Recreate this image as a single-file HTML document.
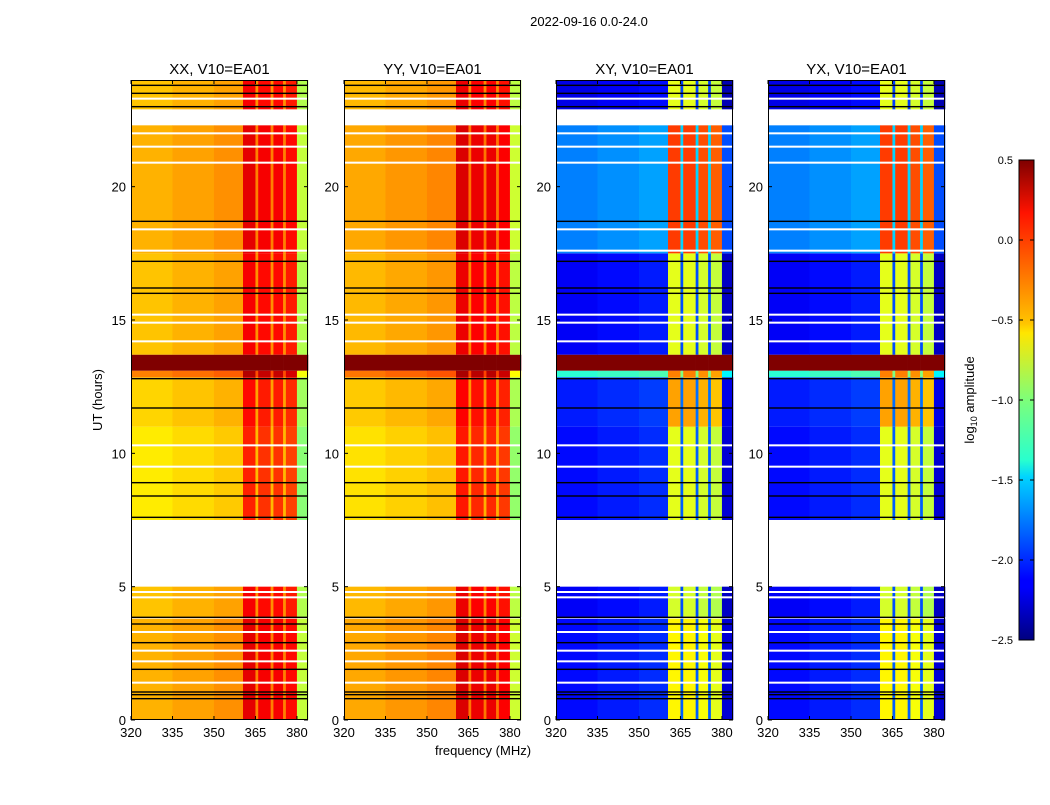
<!DOCTYPE html>
<html><head><meta charset="utf-8"><style>
body{margin:0;background:#fff;font-family:"Liberation Sans",sans-serif}
svg text{font-family:"Liberation Sans","DejaVu Sans",sans-serif}
</style></head><body>
<svg id="fig" width="1050" height="800" xmlns="http://www.w3.org/2000/svg">
<defs>
<linearGradient id="jet" x1="0" y1="1" x2="0" y2="0">
<stop offset="0" stop-color="#00007f"/><stop offset="0.11" stop-color="#0000ff"/><stop offset="0.125" stop-color="#0000ff"/>
<stop offset="0.34" stop-color="#00d4ff"/><stop offset="0.375" stop-color="#29ffce"/><stop offset="0.5" stop-color="#7dff7a"/>
<stop offset="0.64" stop-color="#ffe600"/><stop offset="0.66" stop-color="#ffc400"/><stop offset="0.89" stop-color="#ff1300"/><stop offset="1" stop-color="#7f0000"/>
</linearGradient>
</defs>
</svg>
<script>
// ---- data ----
const panelTitles = ["XX, V10=EA01","YY, V10=EA01","XY, V10=EA01","YX, V10=EA01"];
const freqEdges = [320,335,350,360.5,365,366,370.5,371.5,375,376,380,384];
const parColVals = [-0.45,-0.4,-0.35,0.15,-0.3,0.1,-0.3,0.1,-0.3,0.05,-0.85];
const crossColVals = [-2.15,-2.1,-2.05,-0.75,-1.9,-0.75,-1.9,-0.8,-1.9,-0.85,-2.3];
const crossIsBand = [0,0,0,1,0,1,0,1,0,1,0];
const rowStart = [0,3.85,7.5,11.0,12.85,13.1,13.7,17.5,22.9];
const rowEnd   = [3.8,5.0,11.0,12.85,13.1,13.7,17.5,22.3,24];
const rowParOff = [0.05,0.0,-0.12,-0.05,0.2,2,0.0,0.05,0.0];
const rowCrossBgOff = [0.05,0.0,0.05,0.1,0.9,4,0.0,0.4,-0.05];
const rowCrossBandOff = [0.15,0.0,0.05,0.4,0.5,4,0.05,0.7,0.05];
const blackLines = [0.8,0.95,1.05,1.9,2.9,3.6,3.85,7.6,8.4,8.9,11.7,12.8,16.0,16.2,17.2,18.7,23.0,23.5,23.8];
const whiteLines = [1.4,2.2,2.6,3.3,4.6,4.8,9.5,10.3,14.2,14.9,15.2,17.6,18.4,20.9,21.5,22.0,23.3];
const xTicks = [320,335,350,365,380];
const yTicks = [0,5,10,15,20];
const cbTicks = [0.5,0.0,-0.5,-1.0,-1.5,-2.0,-2.5];
const cbLabels = ["0.5","0.0","\u22120.5","\u22121.0","\u22121.5","\u22122.0","\u22122.5"];
// ---- layout ----
const panelX = [131,344,556,768], PW=177, PT=80, PB=720;
const sx = (f,p)=>panelX[p]+(f-320)/(384-320)*PW;
const sy = h=>PB-(h/24)*(PB-PT);
const NS="http://www.w3.org/2000/svg", svg=document.getElementById('fig');
function mk(t,a,parent){const e=document.createElementNS(NS,t);for(const k in a)e.setAttribute(k,a[k]);(parent||svg).appendChild(e);return e;}
function jet(v){let t=(v+2.5)/3;t=Math.max(0,Math.min(1,t));
 const c=x=>Math.round(255*Math.max(0,Math.min(1,x)));
 return `rgb(${c(1.5-Math.abs(4*t-3))},${c(1.5-Math.abs(4*t-2))},${c(1.5-Math.abs(4*t-1))})`;}
const cbY = v=>160+(0.5-v)/3*480;
for(let p=0;p<4;p++){
 const g=mk('g',{});
 
 
 const cross=p>=2;
 for(let r=0;r<rowStart.length;r++){
  const cols=cross?crossColVals:parColVals;
  for(let c=0;c<cols.length;c++){
   let v;
   if(cross){const o=crossIsBand[c]?rowCrossBandOff[r]:rowCrossBgOff[r]; v=o>=2?0.6:cols[c]+o;}
   else {v=rowParOff[r]>=2?0.6:cols[c]+rowParOff[r]+(p%2?0.03:0);}
   const x0=sx(freqEdges[c],p),x1=sx(freqEdges[c+1],p);
   const cell=mk('rect',{x:x0,y:sy(rowEnd[r]),width:x1-x0+0.3,height:sy(rowStart[r])-sy(rowEnd[r]),fill:jet(v)},g);
   
   
  }
 }
 blackLines.forEach(h=>{const l=mk('rect',{x:panelX[p],y:sy(h)-0.7,width:PW,height:1.4,fill:'#000'},g);
  
  });
 whiteLines.forEach(h=>{const l=mk('rect',{x:panelX[p],y:sy(h)-1,width:PW,height:2,fill:'#fff'},g);
  
  });
 const fr=mk('rect',{x:panelX[p]+0.5,y:PT+0.5,width:PW-1,height:PB-PT-1,fill:'none',stroke:'#000','stroke-width':1},g);
 
 
 const tt=mk('text',{x:panelX[p]+PW/2,y:74,'text-anchor':'middle','font-size':15},g);tt.textContent=panelTitles[p];
 
 
 xTicks.forEach(f=>{const x=sx(f,p);
  mk('line',{x1:x,x2:x,y1:PB,y2:PB-4,stroke:'#000'},g);mk('line',{x1:x,x2:x,y1:PT,y2:PT+4,stroke:'#000'},g);
  const t=mk('text',{x:x,y:PB+17,'text-anchor':'middle','font-size':13},g);t.textContent=f;
  
  });
 yTicks.forEach(h=>{const y=sy(h);
  mk('line',{x1:panelX[p],x2:panelX[p]+4,y1:y,y2:y,stroke:'#000'},g);mk('line',{x1:panelX[p]+PW,x2:panelX[p]+PW-4,y1:y,y2:y,stroke:'#000'},g);
  const t=mk('text',{x:panelX[p]-5,y:y+5,'text-anchor':'end','font-size':13},g);t.textContent=h;
  
  });
}
// colorbar
const cb=mk('rect',{x:1019,y:160,width:15,height:480,fill:'url(#jet)',stroke:'#000','stroke-width':1});


cbTicks.forEach((v,i)=>{const y=cbY(v);
 mk('line',{x1:1019,x2:1023,y1:y,y2:y,stroke:'#000'});mk('line',{x1:1034,x2:1030,y1:y,y2:y,stroke:'#000'});
 const t=mk('text',{x:1013,y:y+4,'font-size':11,'text-anchor':'end'});t.textContent=cbLabels[i];
 
 });
let t=mk('text',{x:0,y:0,'font-size':13,'text-anchor':'middle',transform:'translate(974,400) rotate(-90)'});
t.innerHTML='log<tspan font-size="9" dy="3">10</tspan><tspan dy="-3"> amplitude</tspan>';


t=mk('text',{x:0,y:0,'font-size':13,'text-anchor':'middle',transform:'translate(102,400) rotate(-90)'});t.textContent='UT (hours)';


t=mk('text',{x:483,y:755,'font-size':13,'text-anchor':'middle'});t.textContent='frequency (MHz)';


t=mk('text',{x:589,y:26,'font-size':13,'text-anchor':'middle'});t.textContent='2022-09-16 0.0-24.0';


</script>
</body></html>
